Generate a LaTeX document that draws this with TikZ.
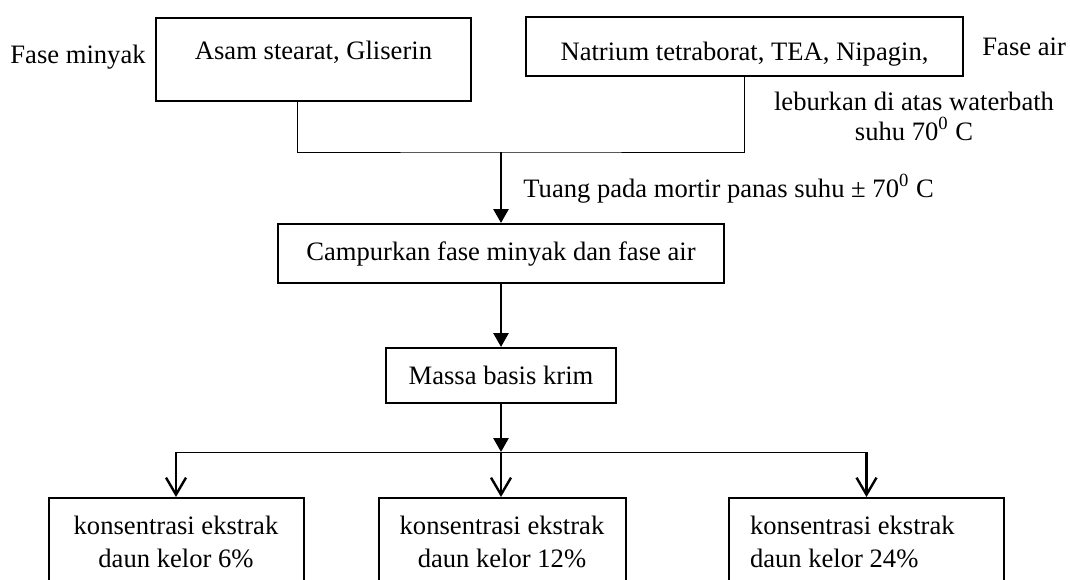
\documentclass[tikz,border=0pt]{standalone}
\usepackage{fontspec}
\setmainfont{Liberation Serif}
\usetikzlibrary{arrows.meta}
\usetikzlibrary{positioning}
\tikzset{box/.style    = {draw, line width=1pt, inner sep=0pt},
         tag/.style    = {inner sep=0pt},
         pct/.style    = {box, anchor=north, inner ysep=9pt, font=\fontsize{13.3}{16.5}\selectfont},
         link/.style   = {line width=0.5pt},
         flow/.style   = {line width=1.4pt, -{Triangle[width=7.5pt, length=7pt]}},
         branch/.style = {line width=1.2pt, -{Straight Barb[width=10pt, length=8.5pt]}}}

\begin{document}
\begin{tikzpicture}[x=0.5pt, y=-0.5pt, font=\fontsize{13.3}{15}\selectfont]
    \useasboundingbox (0, 0) rectangle (1070, 579);
    \clip (0, 0) rectangle (1070, 579);

    \node [box, anchor=north west, minimum width=157.5pt, text height=20.5pt, text depth=21pt] (asam) at (155, 17) {Asam stearat, Gliserin};

    \node [box, anchor=north west, minimum width=218.5pt, text height=21.5pt, text depth=8pt] (natrium) at (525, 16) {Natrium tetraborat, TEA, Nipagin,};

    \node [tag, anchor=base east] (minyak) at (146, 63) {Fase minyak};

    \node [tag, anchor=base west] (air) at (982, 55) {Fase air};

    \node [tag, align=center] (lebur) at (914, 116) {leburkan di atas waterbath\\suhu 70\textsuperscript{0} C};

    \coordinate (join) at (501, 152);

    \draw [link] ([xshift=-8.25pt]asam.south) |- (join) -| (natrium.south);

    \node [box, minimum width=223pt, minimum height=29.5pt] (campur) at (501, 253.5) {Campurkan fase minyak dan fase air};

    \draw [flow] (join) -- (campur.north);

    \node [tag, anchor=base west] (tuang) at (523, 197) {Tuang pada mortir panas suhu ± 70\textsuperscript{0} C};

    \node [box, minimum width=115pt, minimum height=27.5pt] (massa) at (501, 375.5) {Massa basis krim};

    \draw [flow] (campur) -- (massa);

    \coordinate (split) at (501, 452);

    \draw [flow] (massa) -- (split);

    \node [pct, text width=127.5pt, align=flush center] (pct6) at (176, 497) {konsentrasi ekstrak\\daun kelor 6\%\rule[-12pt]{0pt}{0pt}};

    \node [pct, text width=123.5pt, align=flush center] (pct12) at (502, 497) {konsentrasi ekstrak\\daun kelor 12\%\rule[-12pt]{0pt}{0pt}};

    \node [pct, text width=116.5pt, align=flush left, inner xsep=10.5pt] (pct24) at (866.5, 497) {konsentrasi ekstrak\\daun kelor 24\%\rule[-12pt]{0pt}{0pt}};

    \draw [link] (split -| pct6.north) -- (split -| pct24.north);

    \draw [branch] (split -| pct6.north) -- (pct6.north);

    \draw [branch] (split) -- (split |- pct12.north);

    \draw [branch] (split -| pct24.north) -- (pct24.north);
\end{tikzpicture}
\end{document}
